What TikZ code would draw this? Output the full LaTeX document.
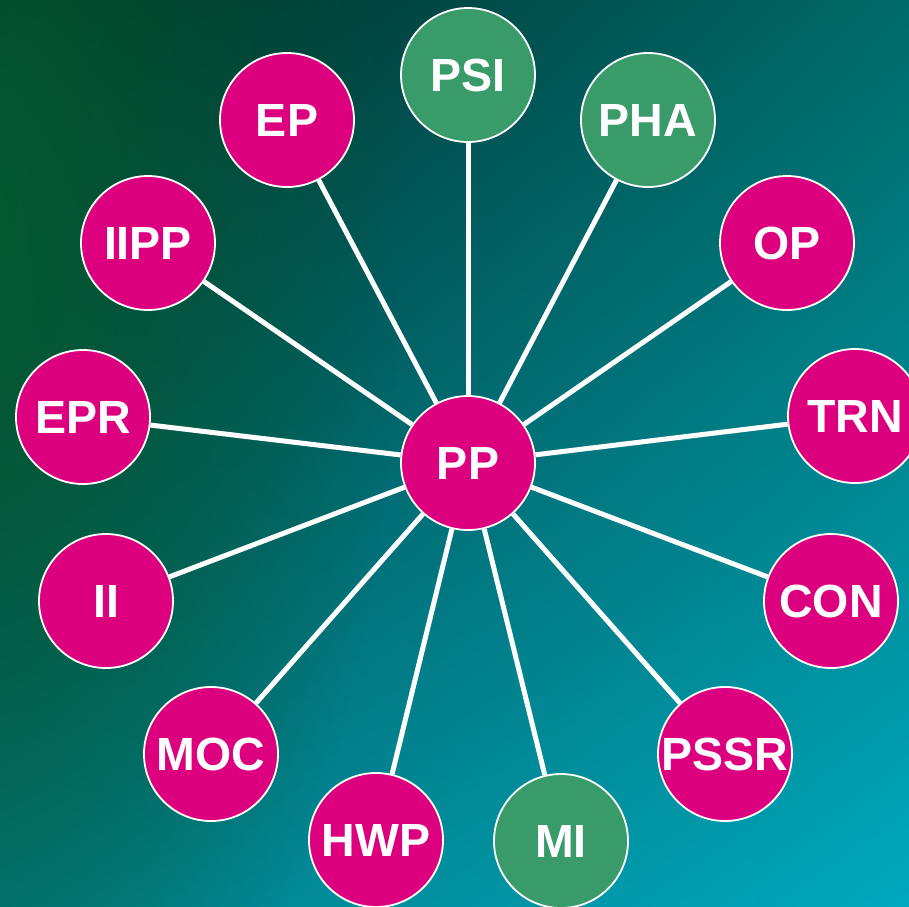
\documentclass[tikz,border=0pt]{standalone}
\usepackage{fontspec}
\setmainfont{Liberation Sans}
\usetikzlibrary{fadings,shadings}
\definecolor{mag}{HTML}{DC007F}
\definecolor{grn}{HTML}{3A9B6A}
\definecolor{bgUL}{HTML}{012824}
\definecolor{bgUR}{HTML}{006A68}
\definecolor{bgLL}{HTML}{037C86}
\definecolor{bgLR}{HTML}{00A8BE}
\definecolor{glow}{HTML}{045A30}
\tikzfading[name=glowfade, inner color=transparent!0, outer color=transparent!100]
\begin{document}
\begin{tikzpicture}[x=1pt,y=-1pt,
  hub/.style={circle, minimum size=134pt, inner sep=0pt, draw=white, line width=1.8pt,
    text=white, font=\fontsize{46.5}{50}\selectfont\bfseries},
  pinkc/.style={hub, fill=mag},
  greenc/.style={hub, fill=grn},
  spoke/.style={draw=white, line width=5pt}]
  % background
  \useasboundingbox (0pt,0pt) rectangle (909pt,-906pt);
  \begin{scope}
    \clip (0pt,0pt) rectangle (909pt,-906pt);
    \shade[upper left=bgUL, upper right=bgUR, lower left=bgLL, lower right=bgLR]
      (0pt,0pt) rectangle (909pt,-906pt);
    \fill[glow, path fading=glowfade] (-20pt,-220pt) ellipse [x radius=420pt, y radius=1000pt];
  \end{scope}
  % nodes
  \node[pinkc]  (PP)   at (468,463) {PP};
  \node[greenc] (PSI)  at (468,75)  {PSI};
  \node[pinkc]  (EP)   at (287,120) {EP};
  \node[greenc] (PHA)  at (648,120) {PHA};
  \node[pinkc]  (IIPP) at (148,243) {IIPP};
  \node[pinkc]  (OP)   at (787,243) {OP};
  \node[pinkc]  (EPR)  at (83,417)  {EPR};
  \node[pinkc]  (TRN)  at (855,416) {TRN};
  \node[pinkc]  (II)   at (106,601) {II};
  \node[pinkc]  (CON)  at (831,601) {CON};
  \node[pinkc]  (MOC)  at (211,754) {MOC};
  \node[pinkc]  (PSSR) at (725,754) {PSSR};
  \node[pinkc]  (HWP)  at (376,840) {HWP};
  \node[greenc] (MI)   at (561,841) {MI};
  % spokes
  \foreach \n in {PSI,EP,PHA,IIPP,OP,EPR,TRN,II,CON,MOC,PSSR,HWP,MI}
    \draw[spoke] (PP) -- (\n);
\end{tikzpicture}
\end{document}
